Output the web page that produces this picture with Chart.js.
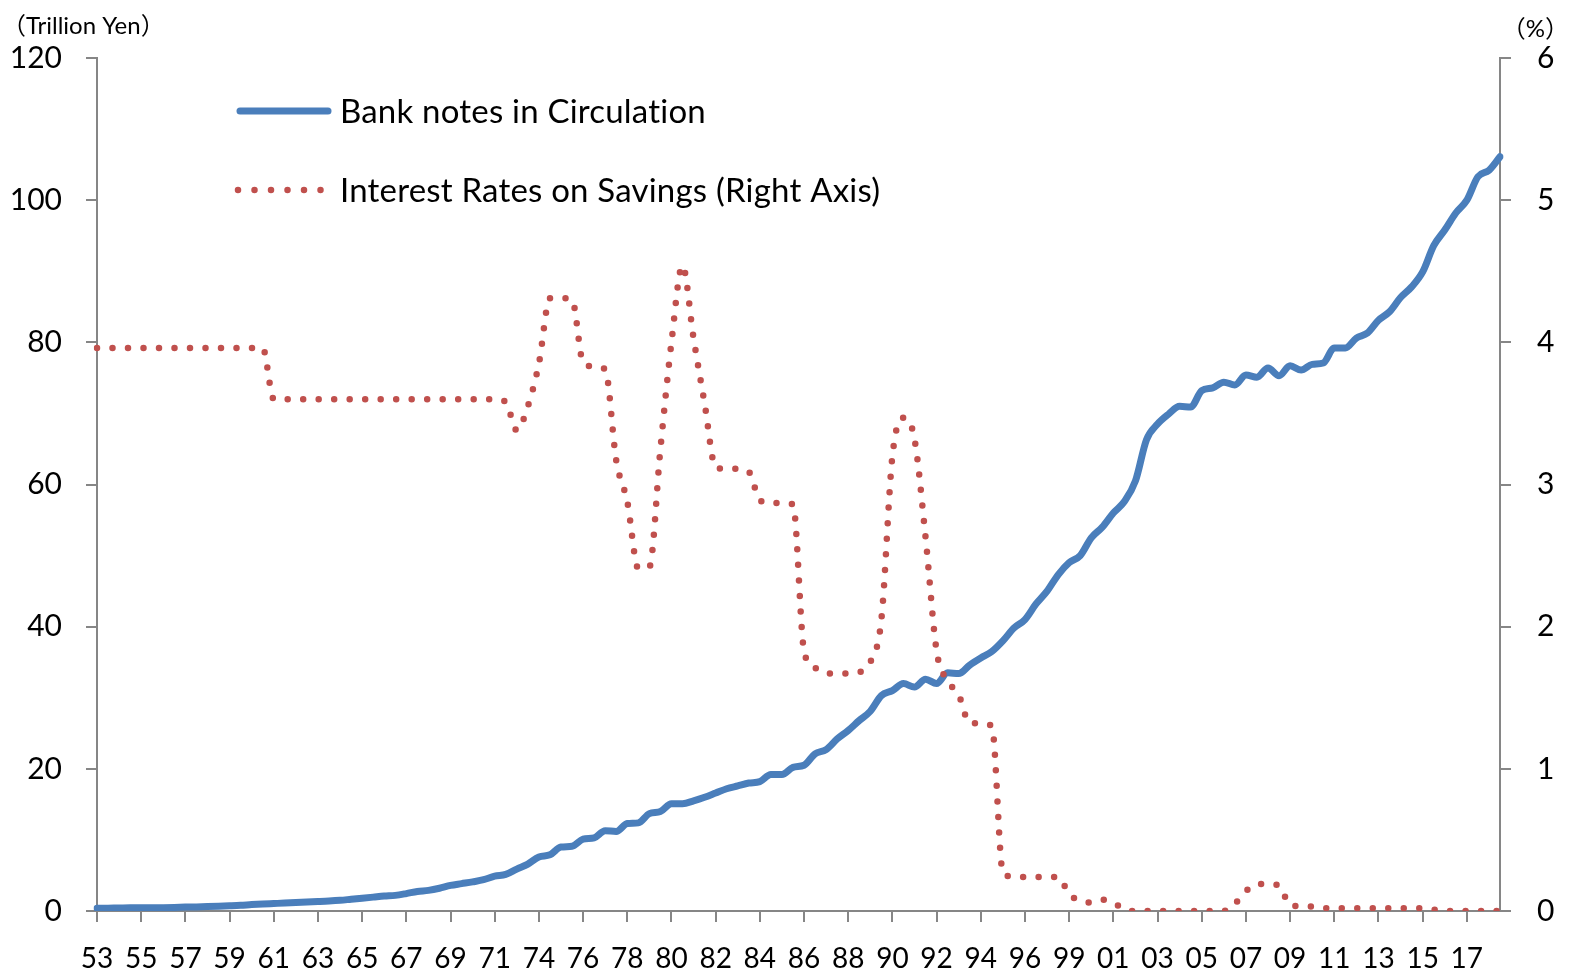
<!DOCTYPE html>
<html>
<head>
<meta charset="utf-8">
<script src="https://cdn.jsdelivr.net/npm/chart.js@4"></script>
<style>
  html, body { margin: 0; padding: 0; background: #fff; }
  #wrap { width: 1571px; height: 973px; position: relative; }
</style>
</head>
<body>
<div id="wrap"><canvas id="chart"></canvas></div>
<script>
// ===== DATA =====
const xTickLabels = ['53', '55', '57', '59', '61', '63', '65', '67', '69', '71', '74', '76', '78', '80', '82', '84',
  '86', '88', '90', '92', '94', '96', '99', '01', '03', '05', '07', '09', '11', '13', '15', '17'];
const pointsPerTick = 4; // samples between two labelled ticks

const seriesNames = ['Bank notes in Circulation', 'Interest Rates on Savings (Right Axis)'];
const leftUnit = '（Trillion Yen）';
const rightUnit = '（%）';

// trillion yen
const banknotes = [
  0.38, 0.40, 0.42, 0.44, 0.45, 0.46, 0.47, 0.50, 0.55, 0.58,
  0.62, 0.67, 0.73, 0.80, 0.90, 0.98, 1.05, 1.12, 1.20, 1.27,
  1.33, 1.40, 1.50, 1.65, 1.80, 1.95, 2.10, 2.20, 2.45, 2.75,
  2.90, 3.20, 3.60, 3.85, 4.10, 4.40, 4.90, 5.15, 5.90, 6.60,
  7.60, 7.90, 9.00, 9.10, 10.1, 10.3, 11.3, 11.2, 12.3, 12.4,
  13.7, 14.0, 15.1, 15.1, 15.5, 16.0, 16.6, 17.2, 17.6, 18.0,
  18.2, 19.2, 19.2, 20.2, 20.5, 22.1, 22.7, 24.2, 25.4, 26.8,
  28.1, 30.3, 31.0, 32.0, 31.5, 32.6, 32.0, 33.5, 33.4, 34.6,
  35.6, 36.5, 38.0, 39.8, 41.0, 43.2, 45.0, 47.3, 49.0, 50.0,
  52.5, 54.0, 56.0, 57.6, 60.5, 66.3, 68.5, 69.9, 71.0, 70.9,
  73.2, 73.6, 74.4, 74.0, 75.4, 75.1, 76.4, 75.3, 76.7, 76.1,
  76.9, 77.1, 79.2, 79.2, 80.6, 81.3, 83.1, 84.3, 86.3, 87.8,
  89.9, 93.6, 95.8, 98.2, 100.0, 103.3, 104.2, 106.1
];

// percent
const savingsRate = [
  3.96, 3.96, 3.96, 3.96, 3.96, 3.96, 3.96, 3.96, 3.96, 3.96,
  3.96, 3.96, 3.96, 3.96, 3.96, 3.96, 3.60, 3.60, 3.60, 3.60,
  3.60, 3.60, 3.60, 3.60, 3.60, 3.60, 3.60, 3.60, 3.60, 3.60,
  3.60, 3.60, 3.60, 3.60, 3.60, 3.60, 3.60, 3.58, 3.38, 3.55,
  3.85, 4.31, 4.31, 4.30, 3.86, 3.83, 3.81, 3.17, 2.88, 2.41,
  2.42, 3.25, 4.00, 4.54, 4.03, 3.57, 3.12, 3.11, 3.11, 3.09,
  2.89, 2.87, 2.87, 2.86, 1.83, 1.71, 1.67, 1.67, 1.67, 1.68,
  1.75, 2.05, 3.20, 3.47, 3.32, 2.63, 1.83, 1.62, 1.52, 1.32,
  1.32, 1.30, 0.27, 0.24, 0.24, 0.24, 0.24, 0.24, 0.12, 0.07,
  0.06, 0.08, 0.06, 0.01, 0.00, 0.00, 0.00, 0.00, 0.00, 0.00,
  0.00, 0.00, 0.00, 0.05, 0.14, 0.19, 0.19, 0.18, 0.04, 0.035,
  0.03, 0.02, 0.02, 0.02, 0.02, 0.02, 0.02, 0.02, 0.02, 0.02,
  0.02, 0.01, 0.00, 0.00, 0.00, 0.00, 0.00, 0.00
];

// category labels: only every pointsPerTick-th sample carries a year label
const categories = banknotes.map((v, i) => i % pointsPerTick === 0 ? (xTickLabels[i / pointsPerTick] || '') : '');

// ===== STYLE =====
const blue = '#4a7ebb', red = '#c0504d', axisGray = '#868686';
const fontFamily = 'Lato, "Noto Sans CJK JP", sans-serif';

// unit captions + legend drawn inside the plot like the original
const overlay = {
  id: 'overlay',
  afterDraw(chart) {
    const ctx = chart.ctx;
    ctx.save();
    ctx.fillStyle = '#000';
    ctx.textBaseline = 'middle';
    ctx.font = '24px ' + fontFamily;
    ctx.textAlign = 'left';
    ctx.fillText(leftUnit, 2, 26);
    ctx.textAlign = 'right';
    ctx.fillText(rightUnit, 1569, 29);

    // legend
    ctx.lineCap = 'round';
    ctx.strokeStyle = blue;
    ctx.lineWidth = 7;
    ctx.beginPath(); ctx.moveTo(240, 111); ctx.lineTo(328, 111); ctx.stroke();
    ctx.strokeStyle = red;
    ctx.lineWidth = 6.5;
    ctx.setLineDash([0, 16.5]);
    ctx.beginPath(); ctx.moveTo(238, 190); ctx.lineTo(322, 190); ctx.stroke();
    ctx.setLineDash([]);

    ctx.font = '33px ' + fontFamily;
    ctx.letterSpacing = '0.2px'; // keeps "ti" from joining into a ligature
    ctx.textAlign = 'left';
    ctx.fillText(seriesNames[0], 340, 112);
    ctx.fillText(seriesNames[1], 340, 191);
    ctx.restore();
  }
};

const axisBase = {
  grid: { drawOnChartArea: false, drawTicks: true, tickLength: 11, color: axisGray, tickColor: axisGray, lineWidth: 2, tickWidth: 2 },
  border: { display: true, color: axisGray, width: 2 }
};

new Chart(document.getElementById('chart'), {
  type: 'line',
  data: {
    labels: categories,
    datasets: [
      {
        label: seriesNames[1],
        data: savingsRate,
        yAxisID: 'y1',
        borderColor: red,
        borderWidth: 6.5,
        borderDash: [0, 15.5],
        borderCapStyle: 'round',
        pointRadius: 0,
        cubicInterpolationMode: 'monotone',
        order: 0
      },
      {
        label: seriesNames[0],
        data: banknotes,
        yAxisID: 'y',
        borderColor: blue,
        borderWidth: 7,
        borderCapStyle: 'round',
        borderJoinStyle: 'round',
        pointRadius: 0,
        cubicInterpolationMode: 'monotone',
        order: 1
      }
    ]
  },
  options: {
    responsive: true,
    maintainAspectRatio: false,
    animation: false,
    layout: { padding: { top: 58, left: 0, right: 0, bottom: 0 } },
    plugins: { legend: { display: false }, tooltip: { enabled: false } },
    scales: {
      x: {
        ...axisBase,
        afterBuildTicks: scale => { scale.ticks = scale.ticks.filter(t => t.value % pointsPerTick === 0); },
        afterFit: scale => { scale.height = 62; },
        ticks: { autoSkip: false, maxRotation: 0, padding: 20, color: '#000', font: { family: fontFamily, size: 28 } }
      },
      y: {
        ...axisBase,
        position: 'left',
        min: 0, max: 120,
        afterFit: scale => { scale.width = 97; },
        ticks: { stepSize: 20, padding: 24, color: '#000', font: { family: fontFamily, size: 30 } }
      },
      y1: {
        ...axisBase,
        position: 'right',
        min: 0, max: 6,
        afterFit: scale => { scale.width = 71; },
        ticks: { stepSize: 1, padding: 26, color: '#000', font: { family: fontFamily, size: 30 } }
      }
    }
  },
  plugins: [overlay]
});
</script>
</body>
</html>
